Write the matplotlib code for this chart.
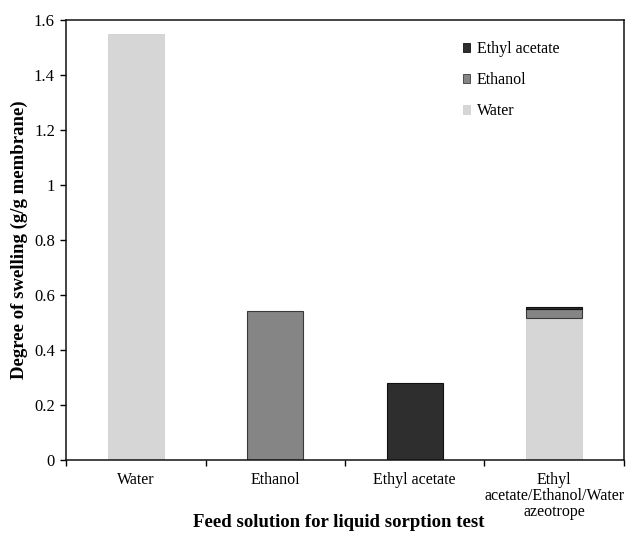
import matplotlib
matplotlib.use("Agg")
import matplotlib.pyplot as plt
import numpy as np
from matplotlib.ticker import FixedLocator, FuncFormatter

plt.rcParams['font.family'] = ['Liberation Serif', 'DejaVu Serif']

# Feed solutions and swelling contributions (g/g membrane)
categories = ["Water", "Ethanol", "Ethyl acetate",
              "Ethyl\nacetate/Ethanol/Water\nazeotrope"]
water = [1.55, 0.0, 0.0, 0.515]
ethanol = [0.0, 0.54, 0.0, 0.033]
ethyl_acetate = [0.0, 0.0, 0.28, 0.008]

y_ticks = [0, 0.2, 0.4, 0.6, 0.8, 1.0, 1.2, 1.4, 1.6]

fig = plt.figure(figsize=(6.29, 5.36), dpi=100)
ax = fig.add_axes([0.105, 0.142, 0.887, 0.821])

x = np.arange(len(categories))
w = 0.4
water = np.array(water)
ethanol = np.array(ethanol)
ethyl_acetate = np.array(ethyl_acetate)


def stacked(values, bottom, **style):
    # draw only the non-empty segments so zero layers leave no edge lines
    keep = values > 0
    ax.bar(x[keep], values[keep], w, bottom=bottom[keep], **style)
    return plt.Rectangle((0, 0), 1, 1, facecolor=style['color'],
                         edgecolor=style['edgecolor'], linewidth=0.6)


h_water = stacked(water, np.zeros_like(water), color='#d6d6d6',
                  edgecolor='#d0d0d0', linewidth=0.6)
h_eth = stacked(ethanol, water, color='#858585',
                edgecolor='#3a3a3a', linewidth=0.8)
h_ea = stacked(ethyl_acetate, water + ethanol, color='#2e2e2e',
               edgecolor='#111111', linewidth=0.8)

ax.set_xlim(-0.5, len(categories) - 0.5)
ax.set_ylim(0, 1.6)

ax.yaxis.set_major_locator(FixedLocator(y_ticks))
ax.yaxis.set_major_formatter(FuncFormatter(lambda v, p: f"{v:g}"))
ax.tick_params(axis='y', direction='out', length=4, width=1, labelsize=12,
               pad=4)

ax.set_xticks(x)
ax.set_xticklabels(categories, fontsize=11.5, linespacing=1.0)
ax.tick_params(axis='x', which='major', length=0, pad=9)
ax.set_xticks(np.arange(-0.5, len(categories)), minor=True)
ax.tick_params(axis='x', which='minor', direction='out', length=4, width=1)

for s in ax.spines.values():
    s.set_linewidth(1.1)
    s.set_color('#111111')

fig.text(0.538, 0.025, "Feed solution for liquid sorption test",
         fontsize=13.5, fontweight='bold', ha='center', va='center')
ax.set_ylabel("Degree of swelling (g/g membrane)", fontsize=13.5,
              fontweight='bold', labelpad=4)

ax.legend([h_ea, h_eth, h_water], ["Ethyl acetate", "Ethanol", "Water"],
          loc='upper right', bbox_to_anchor=(0.91, 0.985), frameon=False,
          fontsize=11.5, handlelength=0.5, handleheight=0.5,
          handletextpad=0.4, labelspacing=0.95)

fig.savefig("out.png", dpi=100)
